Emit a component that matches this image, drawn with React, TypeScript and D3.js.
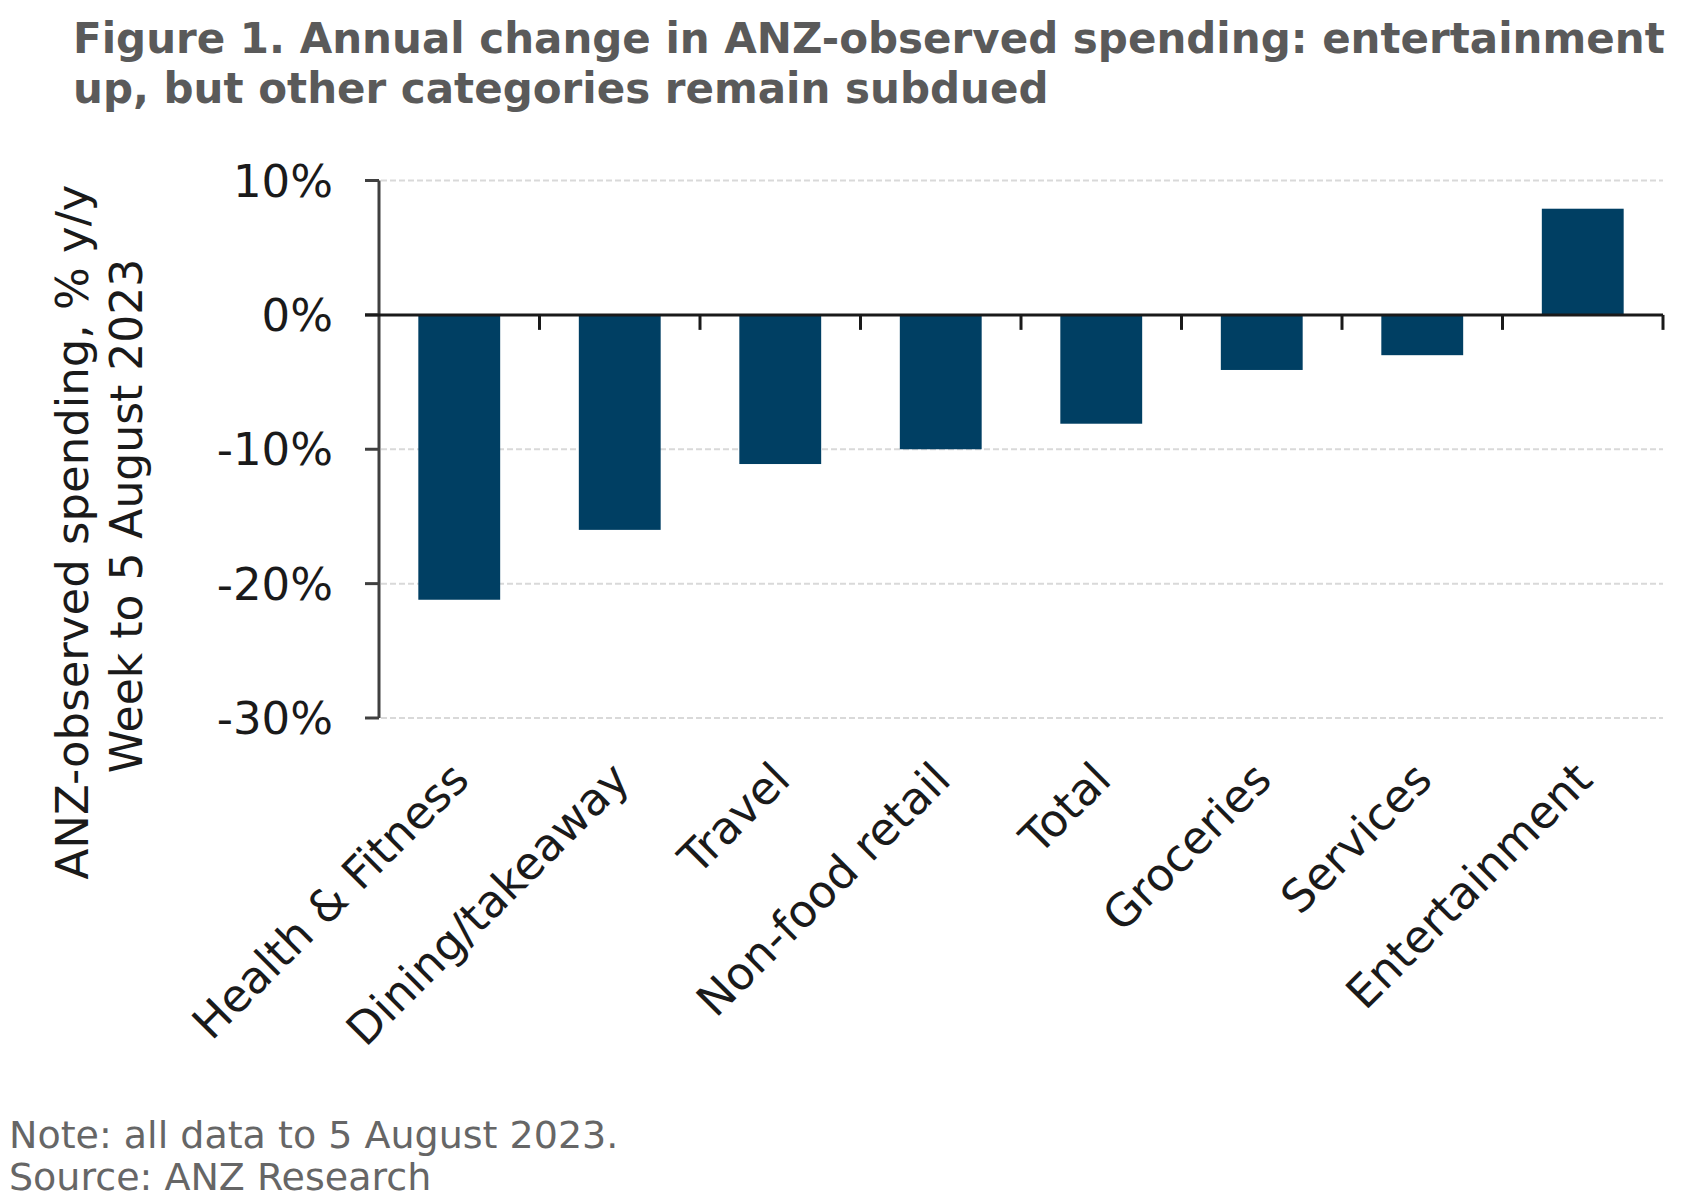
import React from "react";
import * as d3 from "d3";

const categories = [
  "Health & Fitness",
  "Dining/takeaway",
  "Travel",
  "Non-food retail",
  "Total",
  "Groceries",
  "Services",
  "Entertainment",
];
const values = [-21.2, -16.0, -11.1, -10.0, -8.1, -4.1, -3.0, 7.9];
const yTicks = [10, 0, -10, -20, -30];
const titleLines = [
  "Figure 1. Annual change in ANZ-observed spending: entertainment",
  "up, but other categories remain subdued",
];
const yLabelLines = ["ANZ-observed spending, % y/y", "Week to 5 August 2023"];
const noteLines = ["Note: all data to 5 August 2023.", "Source: ANZ Research"];

const W = 1685;
const H = 1198;
const FONT = "'DejaVu Sans', Verdana, sans-serif";

export default function App() {
  const x = d3
    .scaleBand<string>()
    .domain(categories)
    .range([379, 1663])
    .paddingInner(0.49)
    .paddingOuter(0.245);
  const y = d3.scaleLinear().domain([-30, 10]).range([718, 180.5]);
  const bw = x.bandwidth();
  const step = x.step();
  const x0 = 379;
  const x1 = 1663;
  const boundaries = categories.map((_, i) => x0 + (i + 1) * step);

  return (
    <svg
      width={W}
      height={H}
      style={{ position: "absolute", left: 0, top: 0, background: "#fff" }}
      fontFamily={FONT}
    >
      <rect x={0} y={0} width={W} height={H} fill="#fff" />
      {/* Title */}
      {titleLines.map((t, i) => (
        <text
          key={i}
          x={73}
          y={53 + i * 50}
          fontSize={42}
          fontWeight="bold"
          fill="#5a5a5a"
        >
          {t}
        </text>
      ))}

      {/* Gridlines */}
      {yTicks
        .filter((t) => t !== 0)
        .map((t) => (
          <line
            key={t}
            x1={x0 + 2}
            x2={x1}
            y1={y(t)}
            y2={y(t)}
            stroke="#d9d9d9"
            strokeWidth={2}
            strokeDasharray="6,3"
          />
        ))}

      {/* Bars */}
      {categories.map((c, i) => {
        const v = values[i];
        return (
          <rect
            key={c}
            x={x(c)}
            y={y(Math.max(0, v))}
            width={bw}
            height={Math.abs(y(v) - y(0))}
            fill="#003f63"
          />
        );
      })}

      {/* Y axis */}
      <line x1={x0} x2={x0} y1={y(10)} y2={y(-30)} stroke="#404040" strokeWidth={3} />
      {yTicks.map((t) => (
        <g key={t}>
          <line x1={x0 - 14} x2={x0} y1={y(t)} y2={y(t)} stroke="#404040" strokeWidth={3} />
          <text
            x={333}
            y={y(t)}
            dy="0.36em"
            fontSize={45}
            textAnchor="end"
            fill="#1a1a1a"
          >
            {`${t}%`}
          </text>
        </g>
      ))}

      {/* Zero line with ticks */}
      <line x1={x0 - 14} x2={x1} y1={y(0)} y2={y(0)} stroke="#1a1a1a" strokeWidth={3} />
      {boundaries.map((bx, i) => (
        <line key={i} x1={bx} x2={bx} y1={y(0)} y2={y(0) + 15} stroke="#1a1a1a" strokeWidth={3} />
      ))}

      {/* X labels */}
      {categories.map((c) => {
        const cx = (x(c) as number) + bw / 2 + 12;
        const cy = 782;
        return (
          <text
            key={c}
            transform={`translate(${cx},${cy}) rotate(-45)`}
            fontSize={45}
            textAnchor="end"
            fill="#1a1a1a"
          >
            {c}
          </text>
        );
      })}

      {/* Y label */}
      <text
        transform={`translate(88,532) rotate(-90)`}
        fontSize={45}
        textAnchor="middle"
        fill="#1a1a1a"
      >
        {yLabelLines[0]}
      </text>
      <text
        transform={`translate(142,516) rotate(-90)`}
        fontSize={44}
        textAnchor="middle"
        fill="#1a1a1a"
      >
        {yLabelLines[1]}
      </text>

      {/* Notes */}
      {noteLines.map((t, i) => (
        <text key={i} x={9} y={1148 + i * 42} fontSize={38} fill="#666">
          {t}
        </text>
      ))}
    </svg>
  );
}
